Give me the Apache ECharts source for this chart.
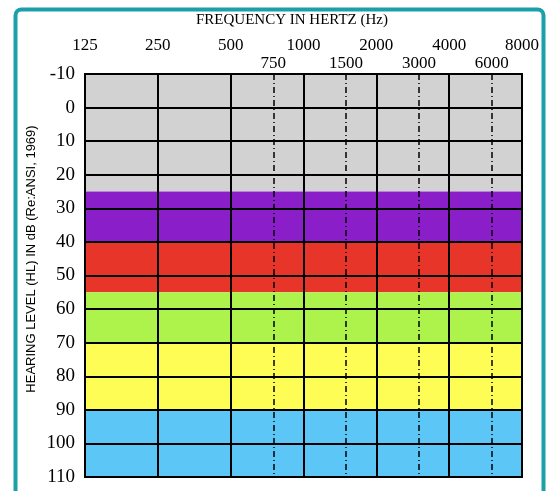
<!DOCTYPE html>
<html>
<head>
<meta charset="utf-8">
<script src="https://cdn.jsdelivr.net/npm/echarts@6/dist/echarts.min.js"></script>
<style>
html,body{margin:0;padding:0;background:#fff;}
#chart{width:546px;height:491px;}
</style>
</head>
<body>
<div id="chart"></div>
<script>
// ---- data ----
const freqOctaves = [125, 250, 500, 1000, 2000, 4000, 8000];
const freqHalfOctaves = [750, 1500, 3000, 6000];
const dbMin = -10;
const dbMax = 110;
const dbStep = 10;
const bandNames = ['Normal', 'Mild', 'Moderate', 'Moderately severe', 'Severe', 'Profound'];
const bandFrom = [-10, 25, 40, 55, 70, 90];
const bandTo = [25, 40, 55, 70, 90, 110];
const titleText = 'FREQUENCY IN HERTZ (Hz)';
const yTitleText = 'HEARING LEVEL (HL) IN dB (Re:ANSI, 1969)';

// ---- presentation ----
const bandColors = ['#d2d2d2', '#8a1fca', '#e8352a', '#aef24c', '#fdfd55', '#5cc7f7'];
const serif = "'Liberation Serif', 'DejaVu Serif', serif";
const pos = f => Math.log2(f / freqOctaves[0]);
const fmtFreq = v => String(Math.round(freqOctaves[0] * Math.pow(2, v)));

const chart = echarts.init(document.getElementById('chart'), null, {renderer: 'canvas'});
const option = {
  animation: false,
  backgroundColor: '#fff',
  grid: {
    left: 85, right: 24, top: 74, bottom: 14, z: 10,
    show: true, borderColor: '#000', borderWidth: 2, backgroundColor: 'transparent'
  },
  xAxis: [
    {
      type: 'value', position: 'top', z: 10, min: 0, max: pos(freqOctaves[freqOctaves.length - 1]),
      axisLine: {show: true, lineStyle: {color: '#000', width: 2}},
      axisTick: {show: false, customValues: freqOctaves.map(pos)},
      axisLabel: {customValues: freqOctaves.map(pos), formatter: fmtFreq, margin: 20,
        fontFamily: serif, fontSize: 17, color: '#000'},
      splitLine: {show: true, lineStyle: {color: '#000', width: 2}}
    },
    {
      type: 'value', position: 'top', z: 9, min: 0, max: pos(freqOctaves[freqOctaves.length - 1]),
      axisLine: {show: false},
      axisTick: {show: false, customValues: freqHalfOctaves.map(pos)},
      axisLabel: {customValues: freqHalfOctaves.map(pos), formatter: fmtFreq, margin: 2,
        fontFamily: serif, fontSize: 17, color: '#000'},
      splitLine: {show: true, lineStyle: {color: '#000', width: 1.5, type: [6, 3, 1, 3]}}
    }
  ],
  yAxis: {
    type: 'value', inverse: true, z: 10, min: dbMin, max: dbMax, interval: dbStep,
    axisLine: {show: true, lineStyle: {color: '#000', width: 2}},
    axisTick: {show: false},
    axisLabel: {margin: 10, fontFamily: serif, fontSize: 19, color: '#000'},
    splitLine: {show: true, lineStyle: {color: '#000', width: 2}}
  },
  series: [{
    type: 'line',
    z: 1,
    xAxisIndex: 0,
    yAxisIndex: 0,
    data: [],
    silent: true,
    markArea: {
      silent: true,
      z: 1,
      data: bandNames.map((n, i) => [
        {name: n, yAxis: bandFrom[i], itemStyle: {color: bandColors[i], opacity: 1}},
        {yAxis: bandTo[i]}
      ]),
      label: {show: false}
    }
  }],
  graphic: [
    {
      type: 'rect', silent: true,
      shape: {x: 15.5, y: 9.5, width: 528, height: 530, r: 6},
      style: {fill: 'none', stroke: '#1b9fa9', lineWidth: 4}
    },
    {
      type: 'text', x: 292, y: 20,
      style: {text: titleText, font: "15px 'Liberation Serif', serif", fill: '#000',
        textAlign: 'center', textVerticalAlign: 'middle'}
    },
    {
      type: 'text', x: 31, y: 259, rotation: Math.PI / 2,
      style: {text: yTitleText, font: "13px 'Liberation Sans', sans-serif", fill: '#000',
        textAlign: 'center', textVerticalAlign: 'middle'}
    }
  ]
};
chart.setOption(option);
</script>
</body>
</html>
